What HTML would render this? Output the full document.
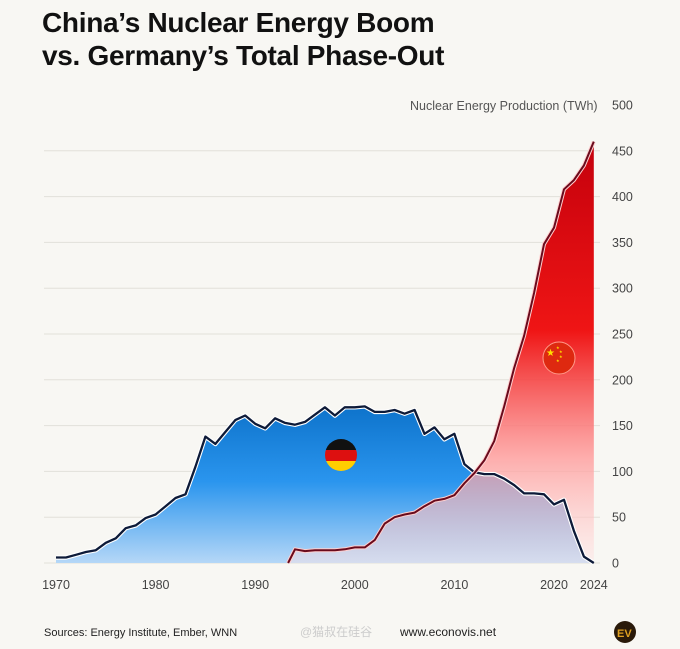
<!DOCTYPE html>
<html><head><meta charset="utf-8">
<style>
body{margin:0;background:#f8f7f3;width:680px;height:649px;overflow:hidden;font-family:"Liberation Sans",sans-serif;}
h1{position:absolute;left:42px;top:6px;margin:0;font-size:28px;line-height:33px;font-weight:bold;color:#111;letter-spacing:-0.3px}
</style></head><body>
<h1>China’s Nuclear Energy Boom<br>vs. Germany’s Total Phase-Out</h1>
<svg id="s" width="680" height="649" style="position:absolute;left:0;top:0">
<defs>
<linearGradient id="gb" x1="0" y1="400" x2="0" y2="563" gradientUnits="userSpaceOnUse">
<stop offset="0" stop-color="#0b70c8"/><stop offset="0.5" stop-color="#2a95ee"/><stop offset="1" stop-color="#b5d7f7"/></linearGradient>
<linearGradient id="gr" x1="0" y1="140" x2="0" y2="563" gradientUnits="userSpaceOnUse">
<stop offset="0" stop-color="#c4000c"/><stop offset="0.45" stop-color="#ef1515"/><stop offset="0.75" stop-color="#ff9a9a" stop-opacity="0.8"/><stop offset="1" stop-color="#ffe4e4" stop-opacity="0.45"/></linearGradient>
</defs>
<g id="grid"></g>
<path id="ga" fill="url(#gb)"/>
<path id="ca" fill="url(#gr)"/>
<path id="gl" fill="none" stroke="#fff" stroke-width="4.5" stroke-linejoin="round"/>
<path id="gl2" fill="none" stroke="#0d1a38" stroke-width="2.3" stroke-linejoin="round"/>
<path id="cl" fill="none" stroke="#ffd0d0" stroke-width="4" stroke-linejoin="round"/>
<path id="cl2" fill="none" stroke="#6a0a1c" stroke-width="2" stroke-linejoin="round"/>
<g id="lab" font-size="12.5" fill="#444"></g>
<text x="410" y="110" font-size="12.5" fill="#555">Nuclear Energy Production (TWh)</text>
<g>
<clipPath id="cg"><circle cx="341" cy="455" r="16"/></clipPath>
<g clip-path="url(#cg)"><rect x="325" y="439" width="32" height="11" fill="#111"/><rect x="325" y="450" width="32" height="11" fill="#dd1010"/><rect x="325" y="461" width="32" height="11" fill="#ffce00"/></g>
<circle cx="559" cy="358" r="16" fill="#de2910" stroke="#ff9a8a" stroke-width="1"/>
<text x="546" y="356" font-size="10" fill="#ffde00">★</text>
<text x="556" y="349" font-size="4" fill="#ffde00">★</text><text x="559" y="353" font-size="4" fill="#ffde00">★</text><text x="559" y="358" font-size="4" fill="#ffde00">★</text><text x="556" y="362" font-size="4" fill="#ffde00">★</text>
</g>
<text x="44" y="636" font-size="11" fill="#222">Sources: Energy Institute, Ember, WNN</text>
<text x="300" y="636" font-size="12" fill="#ccc">@猫叔在硅谷</text>
<text x="400" y="636" font-size="12" fill="#222">www.econovis.net</text>
<circle cx="625" cy="632" r="11" fill="#2a1a0a"/><text x="617" y="637" font-size="11" font-weight="bold" fill="#e0a020">EV</text>
</svg>
<script>
var X=function(y){return 56+(y-1970)*9.96},Y=function(v){return 563-v*0.916};
var g=[6,6,9,12,14,22,27,38,41,49,53,62,71,75,105,138,130,143,156,161,152,147,158,153,151,154,162,170,161,170,170,171,165,165,167,163,167,141,148,135,141,108,99,97,97,92,85,76,76,75,64,69,35,7,0];
var c=[[1993.3,0],[1994,15],[1995,13],[1996,14],[1997,14],[1998,14],[1999,15],[2000,17],[2001,17],[2002,25],[2003,43],[2004,50],[2005,53],[2006,55],[2007,62],[2008,68],[2009,70],[2010,74],[2011,87],[2012,98],[2013,112],[2014,133],[2015,171],[2016,213],[2017,248],[2018,295],[2019,348],[2020,366],[2021,408],[2022,418],[2023,434],[2024,460]];
var gl=g.map(function(v,i){return (i?'L':'M')+X(1970+i).toFixed(1)+' '+Y(v).toFixed(1)}).join('');
var cl=c.map(function(p,i){return (i?'L':'M')+X(p[0]).toFixed(1)+' '+Y(p[1]).toFixed(1)}).join('');
function s(id,a,v){document.getElementById(id).setAttribute(a,v)}
s('ga','d',gl+'L'+X(2024)+' 563L56 563Z');s('gl','d',gl);s('gl2','d',gl);
s('ca','d',cl+'L'+X(2024)+' 563Z');s('cl','d',cl);s('cl2','d',cl);
var gr='',lb='';
for(var v=0;v<=500;v+=50){var y=Y(v);if(v<500)gr+='<line x1="44" x2="600" y1="'+y+'" y2="'+y+'" stroke="#e2e0da" stroke-width="1"/>';lb+='<text x="612" y="'+(y+4.5)+'">'+v+'</text>';}
[1970,1980,1990,2000,2010,2020,2024].forEach(function(yr){lb+='<text x="'+X(yr)+'" y="589" text-anchor="middle">'+yr+'</text>'});
document.getElementById('grid').innerHTML=gr;document.getElementById('lab').innerHTML=lb;
</script>
</body></html>
